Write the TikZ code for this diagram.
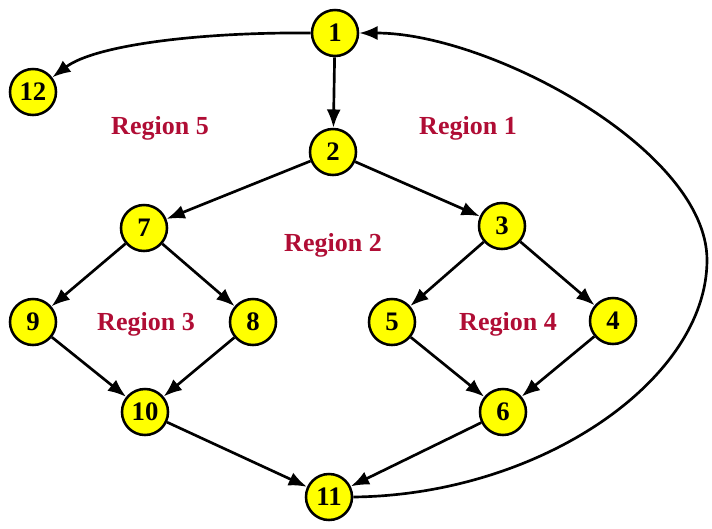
\documentclass[tikz,border=0pt]{standalone}
\usepackage{fontspec}
\setmainfont{Liberation Serif}
\usetikzlibrary{arrows.meta}
\definecolor{regionred}{RGB}{176,13,53}
\definecolor{nodeyellow}{RGB}{255,255,0}
\tikzset{
    flownode/.style={circle,draw,fill=nodeyellow,line width=1.8pt,minimum size=1.15cm,inner sep=0pt,font=\nodefontsize\bfseries},
    regionlabel/.style={text=regionred,font=\regionfontsize\bfseries},
    flowedge/.style={line width=1.9pt,-{Latex[length=13pt,width=10pt]}}
}
\begin{document}
\begin{tikzpicture}[x=0.025cm,y=-0.025cm]
    \providecommand{\nodefontsize}{\fontsize{19pt}{21pt}\selectfont}
    \providecommand{\regionfontsize}{\fontsize{18.5pt}{20pt}\selectfont}
    \useasboundingbox (0,0) rectangle (712,528);
    \node[flownode] (n1) at (335,33) {1};
    \node[flownode] (n12) at (33,92) {12};
    \node[flownode] (n2) at (333,152) {2};
    \node[flownode] (n7) at (144,228) {7};
    \node[flownode] (n3) at (502,226) {3};
    \node[flownode] (n9) at (33,322) {9};
    \node[flownode] (n8) at (253,322) {8};
    \node[flownode] (n5) at (392,322) {5};
    \node[flownode] (n4) at (613,321) {4};
    \node[flownode] (n10) at (145,412) {10};
    \node[flownode] (n6) at (503,412) {6};
    \node[flownode] (n11) at (329,497) {11};
    % region labels
    \node[regionlabel] (r5) at (160,128) {Region 5};
    \node[regionlabel] (r1) at (468,128) {Region 1};
    \node[regionlabel] (r2) at (333,245) {Region 2};
    \node[regionlabel] (r3) at (146,324) {Region 3};
    \node[regionlabel] (r4) at (508,324) {Region 4};
    % straight edges
    \foreach \from/\to in {n1/n2,n2/n7,n2/n3,n7/n9,n7/n8,n3/n5,n3/n4,n9/n10,n8/n10,n5/n6,n4/n6,n10/n11,n6/n11}
        \draw[flowedge] (\from) -- (\to);
    % curved edges
    \draw[flowedge] (n1.west) .. controls (200,32) and (95,45) .. (n12);
    \coordinate (loopright) at (707,260);
    \draw[flowedge] (n11.east) .. controls (540,495) and (707,380) .. (loopright)
        .. controls (707,150) and (490,33) .. (n1.east);
\end{tikzpicture}
\end{document}
